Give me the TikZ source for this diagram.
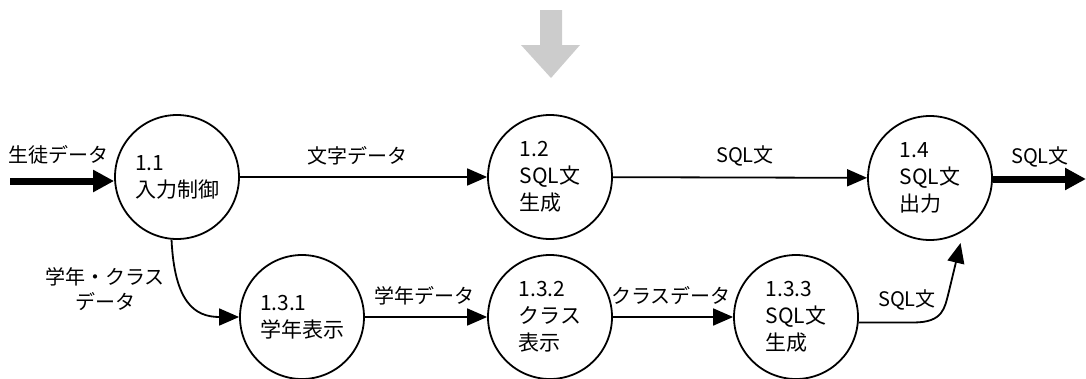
\documentclass[tikz,border=0pt]{standalone}
\usepackage{fontspec}
\setmainfont{Noto Sans CJK JP}
\usetikzlibrary{arrows.meta,calc}
\begin{document}
\begin{tikzpicture}[x=1pt,y=-1pt,
  proc/.style={draw,circle,line width=1.8pt,minimum size=124pt,inner sep=0pt,align=left,font=\fontsize{21pt}{27pt}\selectfont},
  flow/.style={line width=1.8pt,-{Triangle[length=20pt,width=17pt]}},
  bigflow/.style={line width=7pt,-{Triangle[length=21pt,width=21pt]}},
  lbl/.style={font=\fontsize{20pt}{25pt}\selectfont,inner sep=0pt,align=center}]
\useasboundingbox (0,0) rectangle (1086,378);
% gray arrow
\fill[black!20] (540,10) -- (562,10) -- (562,45) -- (580,45) -- (551,78) -- (521,45) -- (540,45) -- cycle;
% processes
\node[proc] (p11) at (177,177) {1.1\\入力制御};
\node[proc] (p12) at (550,177) {1.2\\SQL文\\生成};
\node[proc] (p14) at (930,178) {1.4\\SQL文\\出力};
\node[proc] (p131) at (302,317) {1.3.1\\学年表示};
\node[proc] (p132) at (550,317) {1.3.2\\クラス\\表示};
\node[proc] (p133) at (796,317) {1.3.3\\SQL文\\生成};
% external in/out
\coordinate (src) at (10,181);
\coordinate (snk) at (1086,179);
\draw[bigflow] (src) -- (src -| p11.west);
\draw[bigflow] (p14.east |- snk) -- (snk);
% flows
\draw[flow] (p11) -- (p12);
\draw[flow] (p12) -- (p14);
\draw[flow] (p131) -- (p132);
\draw[flow] (p132) -- (p133);
\draw[flow] (p11.265) .. controls +(3,62) and +(-45,0) .. (p131.west);
\draw[flow,shorten >=12pt] (p133.-5) -- ++(55,0) .. controls +(30,0) and +(-4,15) .. ++(35,-30) -- (p14.-58);
% labels
\node[lbl] (l1) at (59,155) {生徒データ};
\node[lbl] (l2) at (357,156) {文字データ};
\node[lbl] (l3) at (745,156) {SQL文};
\node[lbl] (l4) at (1040,157) {SQL文};
\node[lbl] (l5) at (105,289) {学年・クラス\\データ};
\node[lbl] (l6) at (424,296) {学年データ};
\node[lbl] (l7) at (671,296) {クラスデータ};
\node[lbl] (l8) at (907,300) {SQL文};
\end{tikzpicture}
\end{document}
